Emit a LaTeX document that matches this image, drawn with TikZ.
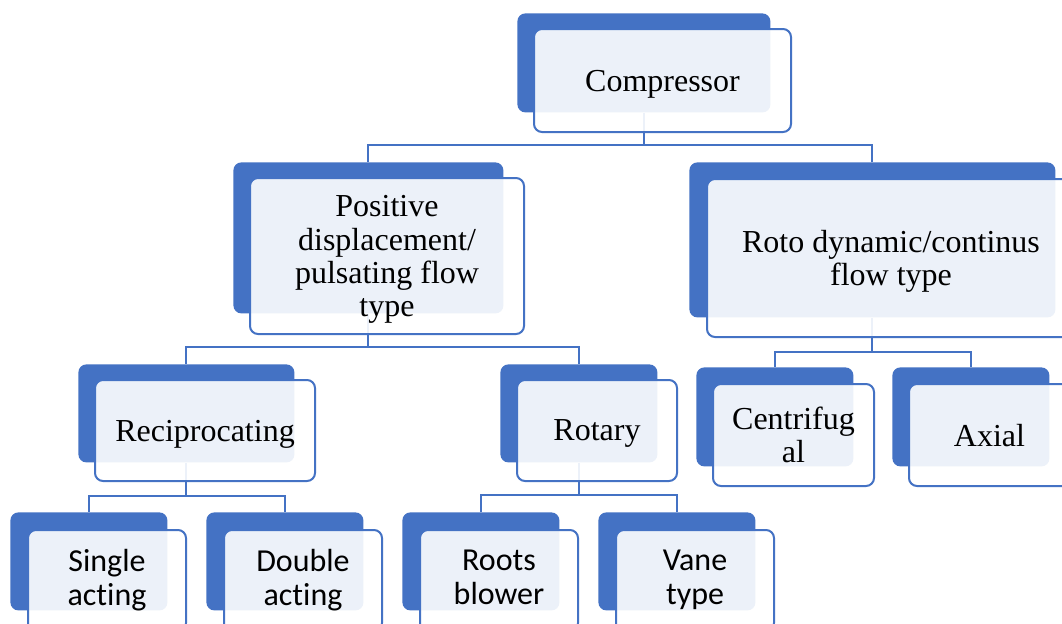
\documentclass[tikz,border=0pt]{standalone}
\usepackage{fontspec}
\setmainfont{Liberation Serif}
\newfontfamily\calibrifont[RawFeature={-liga;-clig;-dlig}]{Carlito}
\usetikzlibrary{positioning}
\definecolor{smblue}{HTML}{4472C4}

\begin{document}
\begin{tikzpicture}[x=0.5pt,y=-0.5pt,
  backbox/.style={fill=smblue,rounded corners=4pt,inner sep=0pt,anchor=north west},
  labelbox/.style={draw=smblue,line width=1pt,fill=white,fill opacity=0.9,text opacity=1,
    rounded corners=4pt,inner sep=0pt,align=center,text depth=0pt,font=\fontsize{16}{16.6}\selectfont},
  leafbox/.style={labelbox,text depth=3pt,font=\calibrifont\fontsize{16}{17}\selectfont},
  link/.style={draw=smblue,line width=1pt}
  ]
    \clip (0,0) rectangle (1062,623);
    \fill[white] (0,0) rectangle (1062,623);

    % blue boxes behind
    \node[backbox,minimum width=126.5pt,minimum height=49.5pt] (compB) at (517,13) {};
    \node[backbox,minimum width=135pt,minimum height=75.5pt] (posB) at (233,162) {};
    \node[backbox,minimum width=183pt,minimum height=77.5pt] (rotoB) at (689,162) {};
    \node[backbox,minimum width=108pt,minimum height=49pt] (recB) at (78,364) {};
    \node[backbox,minimum width=78.5pt,minimum height=49pt] (rotB) at (500,364) {};
    \node[backbox,minimum width=78.5pt,minimum height=49.5pt] (cenB) at (696,367) {};
    \node[backbox,minimum width=78.5pt,minimum height=49.5pt] (axB) at (892,367) {};
    \node[backbox,minimum width=78.5pt,minimum height=49pt] (sinB) at (10,512) {};
    \node[backbox,minimum width=78.5pt,minimum height=49pt] (dblB) at (206,512) {};
    \node[backbox,minimum width=78.5pt,minimum height=49pt] (rooB) at (402,512) {};
    \node[backbox,minimum width=78.5pt,minimum height=49pt] (vanB) at (598,512) {};

    % connectors
    \coordinate (j0) at (compB.south |- 0,145);
    \coordinate (j1) at (posB.south |- 0,347);
    \coordinate (j2) at (rotoB.south |- 0,352);
    \coordinate (j3) at (recB.south |- 0,496);
    \coordinate (j4) at (rotB.south |- 0,495);
    \draw[link] (compB.south) -- (j0) -| (posB.north);
    \draw[link] (j0) -| (rotoB.north);
    \draw[link] (posB.south) -- (j1) -| (recB.north);
    \draw[link] (j1) -| (rotB.north);
    \draw[link] (rotoB.south) -- (j2) -| (cenB.north);
    \draw[link] (j2) -| (axB.north);
    \draw[link] (recB.south) -- (j3) -| (sinB.north);
    \draw[link] (j3) -| (dblB.north);
    \draw[link] (rotB.south) -- (j4) -| (rooB.north);
    \draw[link] (j4) -| (vanB.north);

    % text boxes in front
    \node[labelbox,minimum width=128.5pt,minimum height=51.5pt,below right=7.5pt and 8pt of compB.north west] (comp) {Compressor};
    \node[labelbox,minimum width=137pt,minimum height=78pt,below right=7.5pt and 8pt of posB.north west] (pos) {Positive\\displacement/\\pulsating flow\\type};
    \node[labelbox,minimum width=184pt,minimum height=79pt,below right=8pt and 8.5pt of rotoB.north west] (roto) {Roto dynamic/continus\\flow type};
    \node[labelbox,minimum width=110pt,minimum height=50.5pt,below right=7.5pt and 8pt of recB.north west] (rec) {Reciprocating};
    \node[labelbox,minimum width=80pt,minimum height=50.5pt,below right=7.5pt and 8pt of rotB.north west] (rot) {Rotary};
    \node[labelbox,minimum width=80.5pt,minimum height=51pt,below right=8pt and 8pt of cenB.north west] (cen) {Centrifug\\al};
    \node[labelbox,minimum width=80.5pt,minimum height=51pt,below right=8pt and 8pt of axB.north west] (ax) {Axial};
    \node[leafbox,minimum width=79pt,minimum height=50.5pt,below right=8.5pt and 8.5pt of sinB.north west] (sin) {Single\\acting};
    \node[leafbox,minimum width=79pt,minimum height=50.5pt,below right=8.5pt and 8.5pt of dblB.north west] (dbl) {Double\\acting};
    \node[leafbox,minimum width=79pt,minimum height=50.5pt,below right=8.5pt and 8.5pt of rooB.north west] (roo) {Roots\\blower};
    \node[leafbox,minimum width=79pt,minimum height=50.5pt,below right=8.5pt and 8.5pt of vanB.north west] (van) {Vane\\type};
\end{tikzpicture}
\end{document}
